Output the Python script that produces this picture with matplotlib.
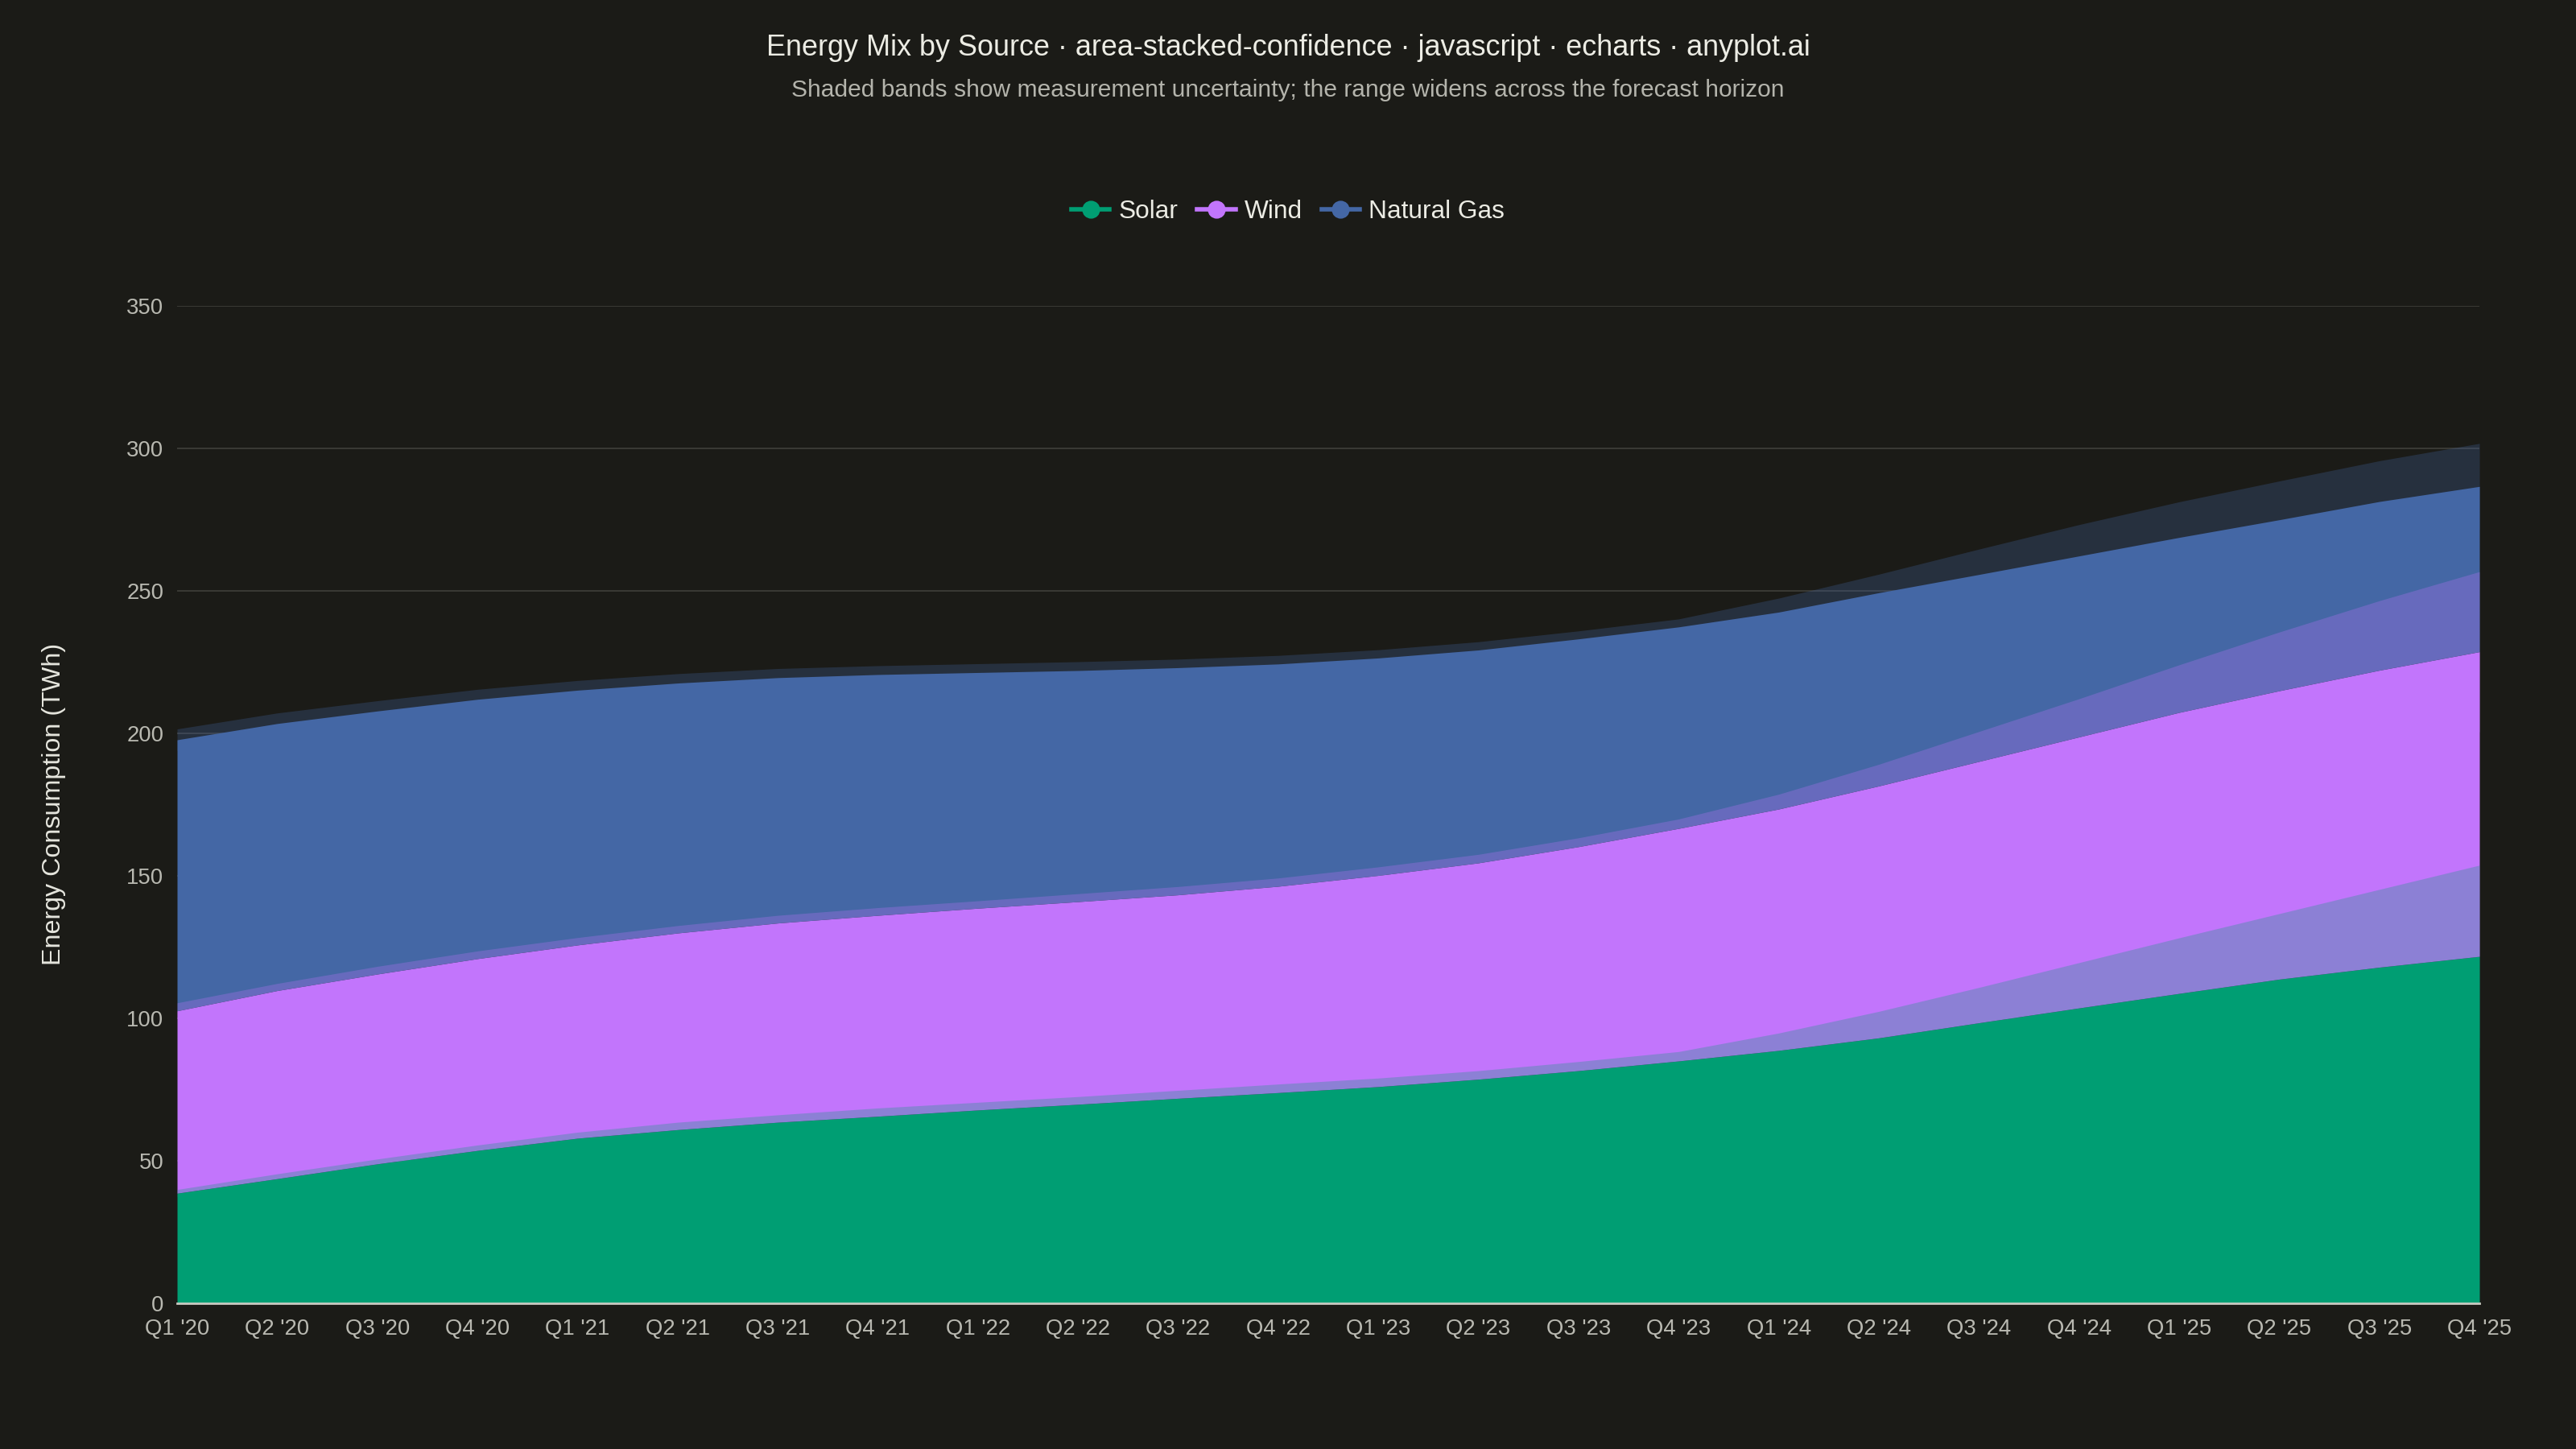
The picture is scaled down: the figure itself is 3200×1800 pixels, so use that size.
import numpy as np
import matplotlib.pyplot as plt
from matplotlib.lines import Line2D

plt.rcParams['font.family'] = ['Liberation Sans', 'DejaVu Sans']

# -----------------------------------------------------
#  Data (TWh per quarter)
# -----------------------------------------------------
quarters = ["Q1 '20", "Q2 '20", "Q3 '20", "Q4 '20",
            "Q1 '21", "Q2 '21", "Q3 '21", "Q4 '21",
            "Q1 '22", "Q2 '22", "Q3 '22", "Q4 '22",
            "Q1 '23", "Q2 '23", "Q3 '23", "Q4 '23",
            "Q1 '24", "Q2 '24", "Q3 '24", "Q4 '24",
            "Q1 '25", "Q2 '25", "Q3 '25", "Q4 '25"]

solar = [38.6, 43.7, 48.9, 53.6, 57.9, 60.9, 63.5, 65.6,
         67.8, 69.8, 71.9, 73.9, 76.0, 78.6, 81.6, 85.0,
         88.7, 93.1, 98.4, 103.6, 108.7, 113.7, 117.9, 121.7]
wind = [64.0, 66.0, 66.6, 67.3, 67.8, 69.0, 69.9, 70.5,
        70.8, 71.1, 71.4, 72.4, 74.1, 75.9, 78.6, 81.6,
        84.7, 88.4, 91.7, 95.1, 98.6, 101.2, 104.2, 106.9]
gas = [95.1, 93.7, 92.3, 91.0, 89.4, 87.7, 86.1, 84.5,
       82.7, 81.1, 79.7, 78.0, 76.3, 74.7, 72.9, 70.7,
       69.1, 67.8, 65.6, 63.5, 61.4, 60.0, 59.2, 58.0]

# half-width of the uncertainty band for each source
solar_err = [1.3, 1.7, 1.7, 1.9, 2.1, 2.6, 2.6, 2.9,
             2.7, 2.7, 2.8, 3.0, 3.0, 3.0, 3.2, 3.3,
             6.1, 9.3, 12.4, 15.9, 19.5, 23.0, 27.3, 32.0]
wind_err = [2.8, 2.5, 2.7, 2.7, 2.6, 2.6, 2.7, 2.7,
            2.6, 2.8, 2.9, 2.9, 3.0, 3.0, 3.1, 3.3,
            5.2, 7.6, 10.5, 13.4, 16.7, 20.6, 24.4, 28.1]
gas_err = [3.8, 3.7, 3.6, 3.5, 3.4, 3.3, 3.2, 3.1,
           3.1, 3.1, 3.0, 3.0, 2.9, 2.9, 2.8, 2.8,
           4.9, 6.5, 8.9, 11.0, 12.5, 13.6, 14.3, 15.1]

names = ["Solar", "Wind", "Natural Gas"]
colors = ["#009e73", "#c275fc", "#4467a5"]

BG = "#1b1b17"

# -----------------------------------------------------
#  Figure
# -----------------------------------------------------
fig = plt.figure(figsize=(16, 9), dpi=200, facecolor=BG)
ax = fig.add_axes([0.06875, 0.1006, 0.89375, 0.6884], facecolor=BG)

x = np.arange(len(quarters))
values = [np.array(solar), np.array(wind), np.array(gas)]
errs = [np.array(solar_err), np.array(wind_err), np.array(gas_err)]

# stacked areas
base = np.zeros(len(x))
bases = []
for v, c in zip(values, colors):
    bases.append(base.copy())
    ax.fill_between(x, base, base + v, color=c, linewidth=0, zorder=2)
    base = base + v

# confidence bands on top
for b, v, e, c in zip(bases, values, errs, colors):
    top = b + v
    ax.fill_between(x, top - e, top + e, color=c, alpha=0.28,
                    linewidth=0, zorder=3)

# -----------------------------------------------------
#  Axes styling
# -----------------------------------------------------
ax.set_xlim(0, len(x) - 1)
ax.set_ylim(0, 350)
ax.set_yticks(np.arange(0, 351, 50))
ax.set_xticks(x)
ax.set_xticklabels(quarters)
ax.tick_params(axis='both', length=0, labelsize=9.9, colors="#b9b9b1")
ax.tick_params(axis='x', pad=7)
ax.tick_params(axis='y', pad=6)
ax.grid(axis='y', color="#3a3a35", linewidth=0.7)
ax.set_axisbelow(True)
for side in ["top", "right", "left"]:
    ax.spines[side].set_visible(False)
ax.spines["bottom"].set_color("#c9c9c1")
ax.spines["bottom"].set_linewidth(1.0)
ax.spines["bottom"].set_zorder(5)

fig.text(0.0208, 0.445, "Energy Consumption (TWh)", rotation=90,
         ha='center', va='center', fontsize=11.6, color="#e6e6de")

fig.text(0.5, 0.967,
         "Energy Mix by Source · area-stacked-confidence · javascript · echarts · anyplot.ai",
         ha='center', va='center', fontsize=12.95, color="#ececE4")
fig.text(0.5, 0.9377,
         "Shaded bands show measurement uncertainty; the range widens across the forecast horizon",
         ha='center', va='center', fontsize=10.8, color="#b4b4ac")

handles = [Line2D([0], [0], color=c, marker='o', markersize=7, linewidth=2,
                  label=n) for n, c in zip(names, colors)]
fig.legend(handles=handles, loc='center', bbox_to_anchor=(0.5, 0.8537),
           ncol=3, frameon=False, fontsize=11.4, handlelength=1.5,
           columnspacing=0.75, handletextpad=0.35, labelcolor="#ecece4")

fig.savefig("out.png", dpi=200, facecolor=BG)
